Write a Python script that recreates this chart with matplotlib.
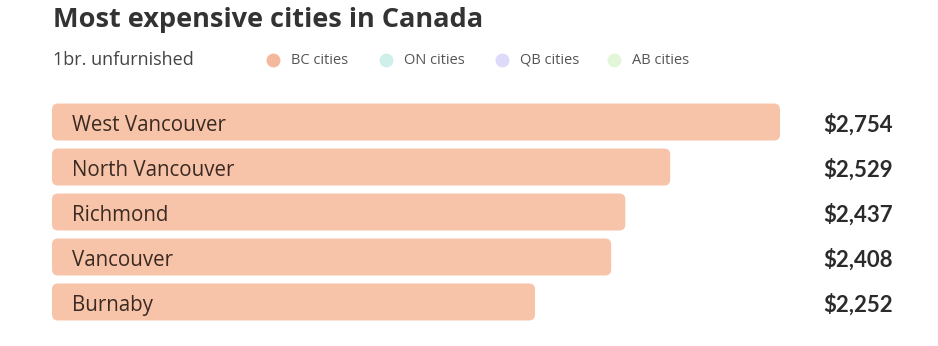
import matplotlib
matplotlib.use("Agg")
import matplotlib.pyplot as plt
from matplotlib.patches import FancyBboxPatch
from matplotlib.lines import Line2D
from matplotlib.transforms import blended_transform_factory
import numpy as np

cities = ["West Vancouver", "North Vancouver", "Richmond", "Vancouver", "Burnaby"]
rents = [2754, 2529, 2437, 2408, 2252]
value_labels = ["$2,754", "$2,529", "$2,437", "$2,408", "$2,252"]
legend_labels = ["BC cities", "ON cities", "QB cities", "AB cities"]
legend_colors = ["#F4B89C", "#CFF0EA", "#DDDAFA", "#E2F6D9"]

BAR_COLOR = "#F7C4A9"
BASE = 1262

W, H = 938, 346
fig = plt.figure(figsize=(W / 100, H / 100), dpi=100)
fig.patch.set_facecolor("white")

ax = fig.add_axes([52 / W, (H - 324) / H, 728 / W, 224 / H])
ax.set_xlim(BASE, max(rents))
ax.set_ylim(4.49, -0.49)
ax.axis("off")

y = np.arange(len(cities))
bars = ax.barh(y, np.array(rents) - BASE, left=BASE, height=37 / 45, color=BAR_COLOR)

# swap square bars for rounded ones with the same geometry
fig.canvas.draw()
px_x = ax.transData.transform((BASE + 1, 0))[0] - ax.transData.transform((BASE, 0))[0]
px_y = abs(ax.transData.transform((0, 1))[1] - ax.transData.transform((0, 0))[1])
radius_px = 6
rx = radius_px / px_x
aspect = (radius_px / px_y) / rx
for b in bars:
    b.set_visible(False)
    x0, y0 = b.get_x(), b.get_y()
    w, h = b.get_width(), b.get_height()
    ax.add_patch(FancyBboxPatch((x0, y0), w, h,
                                boxstyle=f"round,pad=0,rounding_size={rx}",
                                mutation_aspect=aspect,
                                facecolor=BAR_COLOR, edgecolor="none"))

for yi, name in zip(y, cities):
    ax.text(BASE + 20 / px_x, yi + 0.08, name, ha="left", va="center",
            fontsize=14.8, color="#3B2A22", family="Open Sans")

tr = blended_transform_factory(fig.transFigure, ax.transData)
for yi, lab in zip(y, value_labels):
    fig.text(893 / W, yi + 0.05, lab, transform=tr, ha="right", va="center",
             fontsize=16, fontweight="bold", color="#2B2B2B", family="Lato")

fig.text(53 / W, 1 - 20 / H, "Most expensive cities in Canada", ha="left", va="center",
         fontsize=19.5, fontweight="bold", color="#333333", family="Open Sans")
fig.text(53 / W, 1 - 60 / H, "1br. unfurnished", ha="left", va="center",
         fontsize=13, color="#444444", family="Open Sans")

legend_x = [273, 386, 502, 614]
for lx, lab, col in zip(legend_x, legend_labels, legend_colors):
    fig.add_artist(Line2D([lx / W], [1 - 60 / H], marker="o", markersize=9,
                          color=col, linestyle="none", transform=fig.transFigure))
    fig.text((lx + 18) / W, 1 - 60 / H, lab, ha="left", va="center",
             fontsize=10.5, color="#555555", family="Open Sans")

fig.savefig("out.png", dpi=100, facecolor="white")
